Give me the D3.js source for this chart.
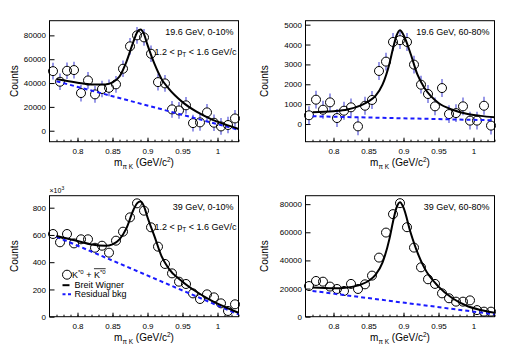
<!DOCTYPE html>
<html>
<head>
<meta charset="utf-8">
<script src="https://cdn.jsdelivr.net/npm/d3@7"></script>
<style>
  body { margin: 0; background: #fff; }
  svg { font-family: "Liberation Sans", Arial, sans-serif; }
</style>
</head>
<body>
<div id="viz"></div>
<script>
// bin centres (GeV/c^2)
var massBins = [0.765, 0.775, 0.785, 0.795, 0.805, 0.815, 0.825, 0.835, 0.845, 0.855,
                0.865, 0.875, 0.885, 0.895, 0.905, 0.915, 0.925, 0.935, 0.945, 0.955,
                0.965, 0.975, 0.985, 0.995, 1.005, 1.015, 1.025];

var counts196Central = [50000, 41100, 50300, 50900, 31600, 42200, 30500, 35000, 36000, 38900,
                        52000, 70800, 80000, 78300, 64600, 40800, 39700, 17900, 17000, 21300,
                        6400, 7000, 15400, 6700, 3600, 4800, 10300];
var counts196Periph = [440, 1225, 720, 1090, 300, 670, 840, -120, 920, 1210,
                       2670, 3140, 4130, 4220, 4130, 2990, 1980, 1510, 890, 1810,
                       500, 550, 890, 170, 170, 920, -80];
var counts39Central = [607, 546, 607, 538, 568, 568, 506, 521, 470, 558,
                       624, 729, 832, 778, 656, 514, 387, 318, 257, 240,
                       171, 130, 164, 142, 98, 42, 91];   // x10^3
var counts39Periph = [21800, 25400, 24900, 21400, 19700, 18300, 23300, 19700, 23000, 29200,
                      42000, 59800, 72900, 80700, 63600, 49100, 35100, 26600, 23300, 16600,
                      13100, 10700, 10700, 11600, 4700, 3600, 3600];

var err196Central = 7000;
var err196Periph = 450;

// fit curves
var fitMass = [0.77, 0.80, 0.82, 0.84, 0.85, 0.86, 0.87, 0.88, 0.885, 0.89,
               0.895, 0.90, 0.91, 0.92, 0.93, 0.95, 0.97, 0.99, 1.01, 1.03];
var fit196Central = [43400, 40300, 38800, 38800, 40500, 45500, 58000, 75000, 82500, 85000,
                     81000, 72000, 56000, 43500, 35500, 24000, 16000, 10000, 5500, 1500];
var fit196Periph = [590, 640, 730, 950, 1140, 1420, 1980, 3050, 3800, 4450,
                    4720, 4480, 3550, 2480, 1810, 1060, 720, 520, 410, 340];
var fit39Central = [592, 555, 530, 520, 531, 568, 650, 785, 832, 845,
                    810, 730, 590, 445, 355, 257, 183, 122, 73, 29];
var fit39Periph = [20700, 20200, 20800, 23000, 25400, 29700, 38500, 55500, 67500, 77500,
                   81400, 77500, 60000, 45500, 34500, 21400, 13100, 7800, 4800, 2800];

var bkgMass = [0.77, 1.03];
var bkg196Central = [41500, 800];
var bkg196Periph = [390, 185];
var bkg39Central = [587, 17];
var bkg39Periph = [18300, 1700];

var yTicks196Central = [0, 20000, 40000, 60000, 80000];
var yTicks196Periph = [0, 1000, 2000, 3000, 4000, 5000];
var yTicks39Central = [0, 200, 400, 600, 800];
var yTicks39Periph = [0, 20000, 40000, 60000, 80000];
var xTicks = [0.8, 0.85, 0.9, 0.95, 1.0];

var panels = [
  { left: 49.5, top: 20.7, counts: counts196Central, err: err196Central, fit: fit196Central,
    bkg: bkg196Central, yDomain: [-9200, 92300], yTicks: yTicks196Central, ttlOff: 32,
    label: '19.6 GeV, 0-10%', pt: true, legend: false },
  { left: 305.5, top: 20.7, counts: counts196Periph, err: err196Periph, fit: fit196Periph,
    bkg: bkg196Periph, yDomain: [-890, 5200], yTicks: yTicks196Periph, ttlOff: 38,
    label: '19.6 GeV, 60-80%', pt: false, legend: false },
  { left: 49.5, top: 195.7, counts: counts39Central, err: 0, fit: fit39Central,
    bkg: bkg39Central, yDomain: [0, 888], yTicks: yTicks39Central, ttlOff: 32,
    label: '39 GeV, 0-10%', pt: true, legend: true, exp: true },
  { left: 305.5, top: 195.7, counts: counts39Periph, err: 0, fit: fit39Periph,
    bkg: bkg39Periph, yDomain: [0, 86000], yTicks: yTicks39Periph, ttlOff: 38,
    label: '39 GeV, 60-80%', pt: false, legend: false }
];

var width = 189, height = 121;
var errColor = '#7878e0', bkgColor = '#1a1aff';

var svg = d3.select('#viz').append('svg')
  .attr('width', 512).attr('height', 350);

panels.forEach(function(p) {
  var x = d3.scaleLinear().domain([0.76, 1.03]).range([0, width]);
  var y = d3.scaleLinear().domain(p.yDomain).range([height, 0]);

  var g = svg.append('g').attr('transform', 'translate(' + p.left + ',' + p.top + ')');

  // x axis: ticks point up inside frame
  var xMinor = d3.range(0.77, 1.031, 0.01);
  g.append('g').attr('transform', 'translate(0,' + height + ')')
    .call(d3.axisBottom(x).tickValues(xMinor).tickSize(-2).tickFormat(''))
    .call(function(s) { s.select('.domain').remove(); s.selectAll('line').attr('stroke', '#000'); });
  g.append('g').attr('transform', 'translate(0,' + height + ')')
    .call(d3.axisBottom(x).tickValues(xTicks).tickSize(-4).tickPadding(7)
      .tickFormat(function(d) { return d === 1 ? '1' : d3.format('.2~f')(d); }))
    .call(function(s) {
      s.select('.domain').remove();
      s.selectAll('line').attr('stroke', '#000');
      s.selectAll('text').attr('font-size', 8).attr('fill', '#000')
        .attr('font-family', '"Liberation Sans", Arial, sans-serif');
    });

  // y axis
  g.append('g')
    .call(d3.axisLeft(y).tickValues(p.yTicks).tickSize(-5).tickPadding(3.5)
      .tickFormat(d3.format('d')))
    .call(function(s) {
      s.select('.domain').remove();
      s.selectAll('line').attr('stroke', '#000');
      s.selectAll('text').attr('font-size', 8).attr('fill', '#000')
        .attr('font-family', '"Liberation Sans", Arial, sans-serif');
    });

  // frame
  g.append('rect').attr('width', width).attr('height', height)
    .attr('fill', 'none').attr('stroke', '#000').attr('stroke-width', 1);

  var clip = g.append('g');

  // error bars (gap around the open marker)
  var r = 4.5;
  if (p.err > 0) {
    var eb = clip.selectAll('.eb').data(p.counts).enter().append('g');
    eb.append('line')
      .attr('x1', function(d, i) { return x(massBins[i]); })
      .attr('x2', function(d, i) { return x(massBins[i]); })
      .attr('y1', function(d) { return y(d + p.err); })
      .attr('y2', function(d) { return y(d) - r; });
    eb.append('line')
      .attr('x1', function(d, i) { return x(massBins[i]); })
      .attr('x2', function(d, i) { return x(massBins[i]); })
      .attr('y1', function(d) { return y(d) + r; })
      .attr('y2', function(d) { return y(d - p.err); });
    eb.selectAll('line').attr('stroke', errColor).attr('stroke-width', 1.5);
  }

  clip.selectAll('circle').data(p.counts).enter().append('circle')
    .attr('cx', function(d, i) { return x(massBins[i]); })
    .attr('cy', function(d) { return y(d); })
    .attr('r', r)
    .attr('fill', 'none').attr('stroke', '#000').attr('stroke-width', 1);

  // residual background
  clip.append('path')
    .attr('d', d3.line().x(function(d, i) { return x(bkgMass[i]); }).y(function(d) { return y(d); })(p.bkg))
    .attr('fill', 'none').attr('stroke', bkgColor).attr('stroke-width', 2)
    .attr('stroke-dasharray', '4,3');

  // Breit-Wigner fit
  clip.append('path')
    .attr('d', d3.line().curve(d3.curveMonotoneX)
      .x(function(d, i) { return x(fitMass[i]); }).y(function(d) { return y(d); })(p.fit))
    .attr('fill', 'none').attr('stroke', '#000').attr('stroke-width', 2);

  // labels
  g.append('text').attr('x', width - 5).attr('y', 14.5).attr('text-anchor', 'end')
    .attr('font-size', 9).text(p.label);
  if (p.pt) {
    var t = g.append('text').attr('x', width - 2).attr('y', 34.5).attr('text-anchor', 'end')
      .attr('font-size', 9);
    t.append('tspan').text('1.2 < p');
    t.append('tspan').attr('dy', 2).attr('font-size', 6.5).text('T');
    t.append('tspan').attr('dy', -2).text(' < 1.6 GeV/c');
  }
  if (p.exp) {
    var e = g.append('text').attr('x', 0).attr('y', -3).attr('font-size', 7);
    e.append('tspan').text('\u00d710');
    e.append('tspan').attr('dy', -3).attr('font-size', 5).text('3');
  }

  // axis titles
  g.append('text')
    .attr('transform', 'translate(' + (-p.ttlOff) + ',' + (height / 2) + ') rotate(-90)')
    .attr('text-anchor', 'middle').attr('font-size', 10).text('Counts');
  var xt = g.append('text').attr('x', width / 2).attr('y', height + 24.5)
    .attr('text-anchor', 'middle').attr('font-size', 10);
  xt.append('tspan').text('m');
  xt.append('tspan').attr('dy', 2.5).attr('font-size', 6.5).text('\u03c0 K');
  xt.append('tspan').attr('dy', -2.5).text(' (GeV/c');
  xt.append('tspan').attr('dy', -4).attr('font-size', 6.5).text('2');
  xt.append('tspan').attr('dy', 4).text(')');

  if (p.legend) {
    var lg = g.append('g').attr('font-size', 9);
    lg.append('circle').attr('cx', 17.5).attr('cy', 79).attr('r', r)
      .attr('fill', 'none').attr('stroke', '#000');
    var k1 = lg.append('text').attr('x', 22.5).attr('y', 82).attr('xml:space', 'preserve');
    k1.append('tspan').text('K');
    k1.append('tspan').attr('dy', -3.5).attr('font-size', 6).text('*0');
    k1.append('tspan').attr('dy', 3.5).text(' +');
    var kx = 22.5 + k1.node().getComputedTextLength() + 2.5;
    var k2 = lg.append('text').attr('x', kx).attr('y', 82);
    k2.append('tspan').text('K');
    k2.append('tspan').attr('dy', -3.5).attr('font-size', 6).text('*0');
    var kw = k2.node().getComputedTextLength();
    lg.append('line').attr('x1', kx).attr('x2', kx + kw).attr('y1', 73).attr('y2', 73)
      .attr('stroke', '#000').attr('stroke-width', 0.8);

    lg.append('line').attr('x1', 13).attr('x2', 20).attr('y1', 89.5).attr('y2', 89.5)
      .attr('stroke', '#000').attr('stroke-width', 2);
    lg.append('text').attr('x', 25).attr('y', 92.5).text('Breit Wigner');
    lg.append('line').attr('x1', 13).attr('x2', 22).attr('y1', 98.5).attr('y2', 98.5)
      .attr('stroke', bkgColor).attr('stroke-width', 2).attr('stroke-dasharray', '3,2.5');
    lg.append('text').attr('x', 25).attr('y', 101.5).text('Residual bkg');
  }
});
</script>
</body>
</html>
